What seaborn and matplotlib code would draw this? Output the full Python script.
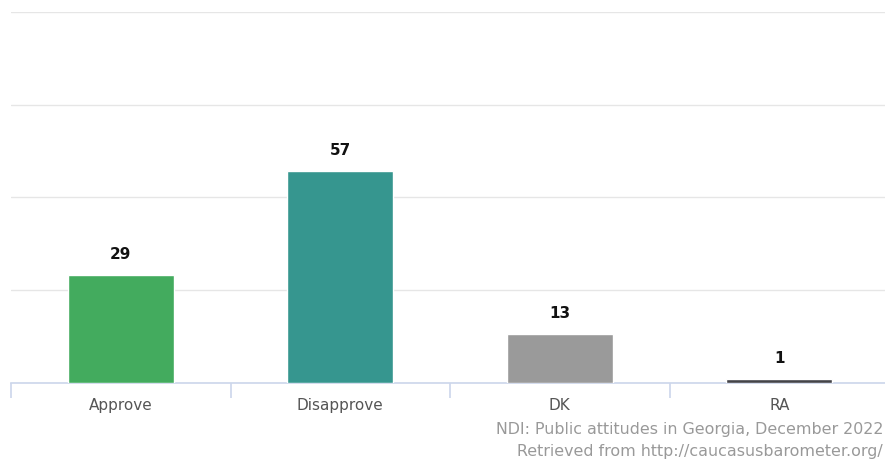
import matplotlib
matplotlib.use("Agg")
import matplotlib.pyplot as plt
import seaborn as sns
import pandas as pd

categories = ["Approve", "Disapprove", "DK", "RA"]
values = [29, 57, 13, 1]
colors = ["#43ab5e", "#36968f", "#9a9a9a", "#434348"]
y_ticks = [0, 25, 50, 75, 100]
source_lines = ["NDI: Public attitudes in Georgia, December 2022",
                "Retrieved from http://caucasusbarometer.org/"]

sns.set_theme(style="white")
plt.rcParams["font.family"] = ["DejaVu Sans"]

df = pd.DataFrame({"category": categories, "value": values})

fig = plt.figure(figsize=(8.85, 4.61), dpi=100)
ax = fig.add_axes([11 / 885, 1 - 382.5 / 461, (889 - 11) / 885, (382.5 - 12) / 461])

sns.barplot(data=df, x="category", y="value", hue="category",
            palette=colors, legend=False, width=0.483, saturation=1,
            ax=ax, zorder=3)

ax.set_xlim(-0.5, len(categories) - 0.5)
ax.set_ylim(0, 100)
ax.set_yticks(y_ticks)
ax.yaxis.grid(True, color="#e6e6e6", linewidth=1, zorder=0)
ax.tick_params(axis="y", left=False, labelleft=False)

# category boundaries carry the tick marks
ax.set_xticks([i - 0.5 for i in range(len(categories) + 1)], minor=False)
ax.set_xticklabels([])
ax.tick_params(axis="x", which="major", direction="out", length=11,
               width=1.2, color="#ccd6eb", bottom=True)
ax.set_xticks(range(len(categories)), minor=True)
ax.set_xticklabels(categories, minor=True)
ax.tick_params(axis="x", which="minor", length=0, pad=11,
               labelsize=11, labelcolor="#555555")
ax.set_xlabel("")
ax.set_ylabel("")

for s in ["top", "right", "left"]:
    ax.spines[s].set_visible(False)
ax.spines["bottom"].set_color("#ccd6eb")
ax.spines["bottom"].set_linewidth(1.2)

for i, v in enumerate(values):
    ax.annotate(f"{v}", xy=(i, v), xytext=(0, 9.5), textcoords="offset points",
                ha="center", va="bottom", fontsize=11, fontweight="bold",
                color="#111111")

fig.text(883 / 885, 1 - 429 / 461, source_lines[0], ha="right", va="center",
         fontsize=11.4, color="#999999")
fig.text(883 / 885, 1 - 451 / 461, source_lines[1], ha="right", va="center",
         fontsize=11.4, color="#999999")

fig.savefig("out.png", dpi=100)
